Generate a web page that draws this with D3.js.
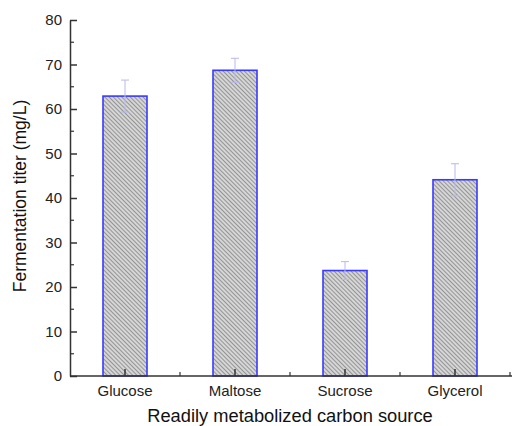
<!DOCTYPE html>
<html>
<head>
<meta charset="utf-8">
<script src="https://cdn.jsdelivr.net/npm/d3@7"></script>
<style>
  body { margin: 0; background: #fff; }
  svg { display: block; font-family: "Liberation Sans", Arial, sans-serif; }
</style>
</head>
<body>
<svg id="chart" width="512" height="426"></svg>
<script>
// data
const categories = ["Glucose", "Maltose", "Sucrose", "Glycerol"]
const titers = [62.9, 68.7, 23.7, 44.1]
const errors = [3.6, 2.7, 2.0, 3.6]
const yTicks = [0, 10, 20, 30, 40, 50, 60, 70, 80]

const svg = d3.select('#chart')

const margin = { left: 70, right: 2, top: 20, bottom: 50 }
const width = 512, height = 426

const x = d3.scaleBand()
    .domain(categories)
    .range([margin.left, 510])
    .paddingInner(0)

const y = d3.scaleLinear()
    .domain([0, 80])
    .range([height - margin.bottom, margin.top])

// hatch pattern
const defs = svg.append('defs')
const pat = defs.append('pattern')
    .attr('id', 'hatch')
    .attr('patternUnits', 'userSpaceOnUse')
    .attr('width', 3)
    .attr('height', 3)
    .attr('patternTransform', 'rotate(45)')
pat.append('rect')
    .attr('width', 3).attr('height', 3)
    .attr('fill', '#d6d6d6')
pat.append('line')
    .attr('x1', 0).attr('y1', 0.5)
    .attr('x2', 3).attr('y2', 0.5)
    .attr('stroke', '#8c8c8c')
    .attr('stroke-width', 0.9)

const barW = x.bandwidth() * 0.4

// bars
svg.append('g')
    .selectAll('rect')
    .data(categories)
    .join('rect')
    .attr('x', d => x(d) + (x.bandwidth() - barW) / 2)
    .attr('y', (d, i) => y(titers[i]))
    .attr('width', barW)
    .attr('height', (d, i) => y(0) - y(titers[i]))
    .attr('fill', 'url(#hatch)')
    .attr('stroke', '#3a3aff')
    .attr('stroke-width', 1.6)

// error bars
const eb = svg.append('g')
    .attr('stroke', '#b8b8ee')
    .attr('stroke-width', 1)
categories.forEach((c, i) => {
    const cx = x(c) + x.bandwidth() / 2
    const top = y(titers[i] + errors[i])
    const bot = y(titers[i] - errors[i])
    eb.append('line').attr('x1', cx).attr('x2', cx).attr('y1', top).attr('y2', bot)
    eb.append('line').attr('x1', cx - 4).attr('x2', cx + 4).attr('y1', top).attr('y2', top)
    eb.append('line').attr('x1', cx - 4).attr('x2', cx + 4).attr('y1', bot).attr('y2', bot)
})

// y axis
const yAxis = svg.append('g')
    .attr('transform', `translate(${margin.left},0)`)
    .call(d3.axisLeft(y).tickValues(yTicks).tickSize(-7).tickPadding(8).tickSizeOuter(0))
yAxis.select('.domain').attr('stroke', '#333').attr('stroke-width', 1.5)
yAxis.selectAll('.tick line').attr('stroke', '#333').attr('stroke-width', 1.5)
yAxis.selectAll('.tick text').attr('font-size', 15).attr('fill', '#222')
    .attr('font-family', '"Liberation Sans", Arial, sans-serif')

// minor y ticks
svg.append('g')
    .selectAll('line')
    .data(d3.range(5, 80, 10))
    .join('line')
    .attr('x1', margin.left).attr('x2', margin.left + 4)
    .attr('y1', d => y(d)).attr('y2', d => y(d))
    .attr('stroke', '#333').attr('stroke-width', 1.2)

// x axis
const xAxis = svg.append('g')
    .attr('transform', `translate(0,${y(0)})`)
    .call(d3.axisBottom(x).tickSize(-7).tickPadding(9).tickSizeOuter(0))
xAxis.select('.domain').attr('stroke', '#333').attr('stroke-width', 1.5)
    .attr('d', `M${margin.left},0H512`)
xAxis.selectAll('.tick line').attr('stroke', '#333').attr('stroke-width', 1.5)
xAxis.selectAll('.tick text').attr('font-size', 15).attr('fill', '#222')
    .attr('font-family', '"Liberation Sans", Arial, sans-serif')

// minor x ticks at band edges
svg.append('g')
    .selectAll('line')
    .data(categories.slice(1).concat(['end']))
    .join('line')
    .attr('x1', d => d === 'end' ? 510 : x(d))
    .attr('x2', d => d === 'end' ? 510 : x(d))
    .attr('y1', y(0)).attr('y2', y(0) - 4)
    .attr('stroke', '#333').attr('stroke-width', 1.2)

// axis titles
svg.append('text')
    .attr('x', (margin.left + 510) / 2)
    .attr('y', 422)
    .attr('text-anchor', 'middle')
    .attr('font-size', 18.3)
    .attr('fill', '#111')
    .text('Readily metabolized carbon source')

svg.append('text')
    .attr('transform', `translate(26,${196}) rotate(-90)`)
    .attr('text-anchor', 'middle')
    .attr('font-size', 17.5)
    .attr('fill', '#111')
    .text('Fermentation titer (mg/L)')
</script>
</body>
</html>
